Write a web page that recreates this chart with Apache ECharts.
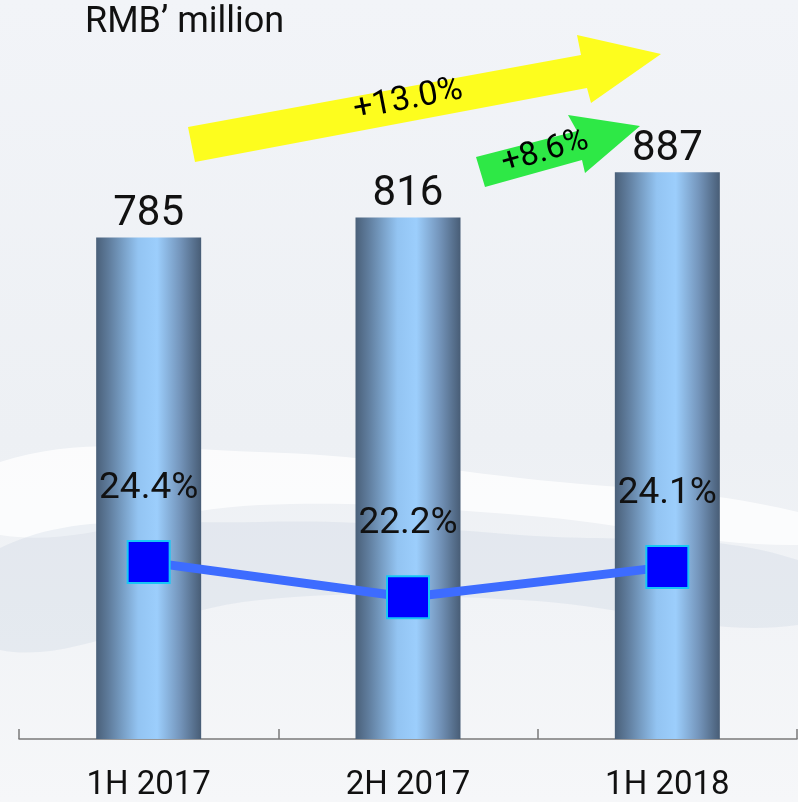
<!DOCTYPE html>
<html>
<head>
<meta charset="utf-8">
<script src="https://cdn.jsdelivr.net/npm/echarts@6/dist/echarts.min.js"></script>
<style>
  html, body { margin: 0; padding: 0; }
  #main { width: 798px; height: 802px; }
</style>
</head>
<body>
<div id="main"></div>
<script>
// data
const categories = ['1H 2017', '2H 2017', '1H 2018']
const revenue = [785, 816, 887]          // RMB' million
const margin = [24.4, 22.2, 24.1]        // %
const unitLabel = 'RMB\u2019 million'
const growthLabels = ['+13.0%', '+8.6%']

const FONT = 'Roboto, "Noto Sans", sans-serif'

const chart = echarts.init(document.getElementById('main'))

// plain gradient objects (horizontal for the bars, vertical for the page)
const barColor = {
  type: 'linear', x: 0, y: 0, x2: 1, y2: 0,
  colorStops: [
    { offset: 0, color: '#4a6079' },
    { offset: 0.12, color: '#5f7c9c' },
    { offset: 0.4, color: '#93c4f2' },
    { offset: 0.58, color: '#9ccefc' },
    { offset: 0.8, color: '#7495bb' },
    { offset: 1, color: '#485d76' }
  ]
}
const pageColor = {
  type: 'linear', x: 0, y: 0, x2: 0, y2: 1,
  colorStops: [
    { offset: 0, color: '#f2f4f8' },
    { offset: 0.55, color: '#edf0f4' },
    { offset: 1, color: '#f6f7f9' }
  ]
}

const option = {
  animation: false,
  backgroundColor: pageColor,
  textStyle: { fontFamily: FONT },
  graphic: [
    // soft background swooshes
    {
      type: 'polygon', silent: true, z: -10,
      shape: { smooth: 0.4, points: [[0, 462], [260, 452], [520, 478], [798, 512], [798, 545], [520, 515], [260, 505], [0, 535]] },
      style: { fill: 'rgba(255,255,255,0.75)' }
    },
    {
      type: 'polygon', silent: true, z: -10,
      shape: { smooth: 0.4, points: [[0, 548], [260, 522], [520, 535], [798, 560], [798, 625], [520, 600], [260, 600], [0, 650]] },
      style: { fill: 'rgba(180,195,215,0.2)' }
    },
    {
      type: 'text', left: 85, top: 5,
      style: { text: unitLabel, font: '36px ' + FONT, fill: '#111' }
    },
    // yellow arrow
    {
      type: 'polygon', z: 5,
      shape: { points: [[188, 127], [581, 55], [577, 35], [661, 54], [591, 103], [587, 88], [195, 162]] },
      style: { fill: '#fdfd1e' }
    },
    {
      type: 'text', z: 6, x: 408, y: 100, rotation: 11 * Math.PI / 180,
      style: { text: growthLabels[0], font: '34px ' + FONT, fill: '#000', align: 'center', verticalAlign: 'middle' }
    },
    // green arrow
    {
      type: 'polygon', z: 5,
      shape: { points: [[476, 157], [577, 131], [568, 115], [640, 126], [585, 173], [582, 160], [485, 187]] },
      style: { fill: '#2ee846' }
    },
    {
      type: 'text', z: 6, x: 545, y: 152, rotation: 16 * Math.PI / 180,
      style: { text: growthLabels[1], font: '33px ' + FONT, fill: '#000', align: 'center', verticalAlign: 'middle' }
    }
  ],
  grid: { left: 19, right: 1, top: 100, bottom: 61 },
  xAxis: {
    type: 'category',
    data: categories,
    boundaryGap: true,
    axisLine: { lineStyle: { color: '#7a7a7a', width: 1.5 } },
    axisTick: { show: true, inside: true, alignWithLabel: false, length: 10, lineStyle: { color: '#7a7a7a', width: 1.5 } },
    axisLabel: { fontSize: 33, color: '#111', margin: 30, fontFamily: FONT }
  },
  yAxis: [
    { type: 'value', min: 0, max: 1000, show: false },
    { type: 'value', min: 13.3, max: 53.4, show: false }
  ],
  series: [
    {
      type: 'bar',
      data: revenue,
      barWidth: 105,
      itemStyle: { color: barColor },
      label: {
        show: true, position: 'top', distance: 2,
        fontSize: 42, color: '#111', fontFamily: FONT
      }
    },
    {
      type: 'line',
      yAxisIndex: 1,
      data: margin,
      symbol: 'rect',
      symbolSize: 42,
      lineStyle: { color: '#3d6cff', width: 9 },
      itemStyle: { color: '#0000ff', borderColor: '#19c6f5', borderWidth: 2 },
      label: {
        show: true, position: 'top', distance: 33,
        fontSize: 37, color: '#111', fontFamily: FONT,
        formatter: p => p.value.toFixed(1) + '%'
      },
      z: 4
    }
  ]
}

chart.setOption(option)
</script>
</body>
</html>
